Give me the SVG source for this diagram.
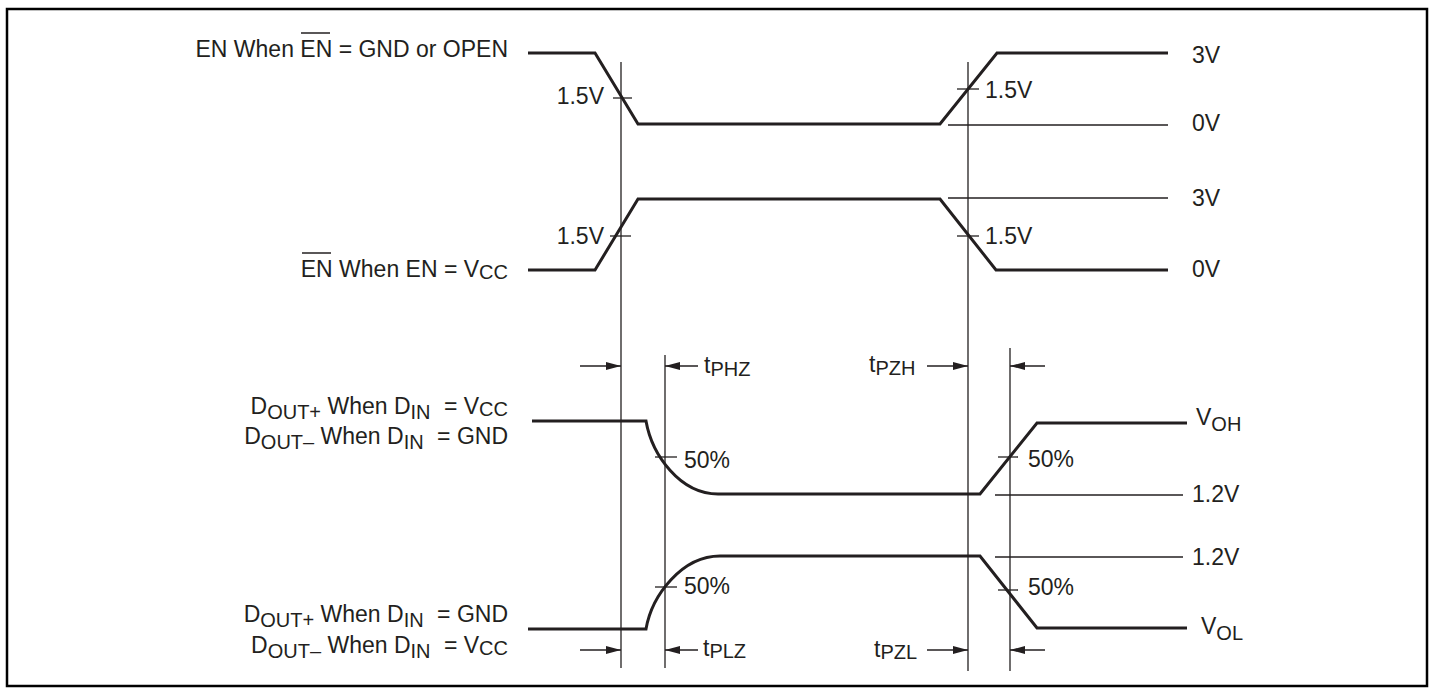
<svg xmlns="http://www.w3.org/2000/svg" width="1435" height="694" viewBox="0 0 1435 694">
<style>
text{font-family:"Liberation Sans",Arial,Helvetica,sans-serif;font-size:23px;fill:#231f20}
.sub{font-size:20px}
.sig{fill:none;stroke:#231f20;stroke-width:3;stroke-linejoin:miter}
.thin{fill:none;stroke:#231f20;stroke-width:1.3}
.arr{fill:none;stroke:#231f20;stroke-width:1.6;marker-end:url(#ah)}
.ov{stroke:#231f20;stroke-width:1.5}
</style>
<defs>
<marker id="ah" markerUnits="userSpaceOnUse" markerWidth="16" markerHeight="9" refX="15" refY="4.5" orient="auto">
<path d="M0,0.5 L15,4.5 L0,8.5 z" fill="#231f20"/>
</marker>
</defs>
<rect x="7" y="9" width="1420" height="677" fill="#fff" stroke="#000" stroke-width="2.5"/>

<g id="sig-en">
<text x="508" y="57" text-anchor="end">EN When EN = GND or OPEN</text>
<line class="ov" x1="301" y1="33" x2="330" y2="33"/>
<path class="sig" d="M528,53 H595 L638,124 H940 L997,53 H1168"/>
<line class="thin" x1="948" y1="125" x2="1168" y2="125"/>
<line class="thin" x1="613" y1="98" x2="632" y2="98"/>
<line class="thin" x1="957" y1="89" x2="979" y2="89"/>
<text x="604" y="104" text-anchor="end">1.5V</text>
<text x="985" y="98">1.5V</text>
<text x="1192" y="63">3V</text>
<text x="1192" y="131">0V</text>
</g>

<g id="sig-enbar">
<text x="508" y="277" text-anchor="end">EN When EN = V<tspan class="sub" dy="2">CC</tspan></text>
<line class="ov" x1="302" y1="253" x2="331" y2="253"/>
<path class="sig" d="M528,270 H595 L638,199 H940 L996,270 H1168"/>
<line class="thin" x1="948" y1="198" x2="1168" y2="198"/>
<line class="thin" x1="610" y1="236" x2="631" y2="236"/>
<line class="thin" x1="957" y1="236" x2="979" y2="236"/>
<text x="604" y="244" text-anchor="end">1.5V</text>
<text x="985" y="244">1.5V</text>
<text x="1192" y="206">3V</text>
<text x="1192" y="277">0V</text>
</g>

<g id="sig-dout-high">
<text x="508" y="414" text-anchor="end">D<tspan class="sub" dy="5">OUT+</tspan><tspan dy="-5"> When D</tspan><tspan class="sub" dy="5">IN</tspan><tspan dx="7" dy="-5"> = V</tspan><tspan class="sub" dy="2">CC</tspan></text>
<text x="508" y="444" text-anchor="end">D<tspan class="sub" dy="5">OUT–</tspan><tspan dy="-5"> When D</tspan><tspan class="sub" dy="5">IN</tspan><tspan dx="7" dy="-5"> = GND</tspan></text>
<path class="sig" d="M532,421 H646 C652,455 680,494 718,494 H980 L1037,423 H1187"/>
<line class="thin" x1="995" y1="495" x2="1183" y2="495"/>
<line class="thin" x1="655" y1="457" x2="677" y2="457"/>
<line class="thin" x1="998" y1="457" x2="1018" y2="457"/>
<text x="684" y="468">50%</text>
<text x="1028" y="467">50%</text>
<text x="1196" y="425">V<tspan class="sub" dy="6">OH</tspan></text>
<text x="1192" y="502">1.2V</text>
</g>

<g id="sig-dout-low">
<text x="508" y="622" text-anchor="end">D<tspan class="sub" dy="5">OUT+</tspan><tspan dy="-5"> When D</tspan><tspan class="sub" dy="5">IN</tspan><tspan dx="7" dy="-5"> = GND</tspan></text>
<text x="508" y="653" text-anchor="end">D<tspan class="sub" dy="5">OUT–</tspan><tspan dy="-5"> When D</tspan><tspan class="sub" dy="5">IN</tspan><tspan dx="7" dy="-5"> = V</tspan><tspan class="sub" dy="2">CC</tspan></text>
<path class="sig" d="M528,629 H646 C652,595 682,556 720,556 H980 L1037,628 H1187"/>
<line class="thin" x1="995" y1="557" x2="1183" y2="557"/>
<line class="thin" x1="655" y1="587" x2="677" y2="587"/>
<line class="thin" x1="998" y1="590" x2="1018" y2="590"/>
<text x="684" y="594">50%</text>
<text x="1028" y="595">50%</text>
<text x="1192" y="565">1.2V</text>
<text x="1201" y="634">V<tspan class="sub" dy="6">OL</tspan></text>
</g>

<g id="connectors">
<line class="thin" x1="621" y1="62" x2="621" y2="668"/>
<line class="thin" x1="665" y1="355" x2="665" y2="668"/>
<line class="thin" x1="968" y1="62" x2="968" y2="671"/>
<line class="thin" x1="1010" y1="348" x2="1010" y2="671"/>
<path class="arr" d="M580,366 H621"/>
<path class="arr" d="M698,366 H665"/>
<path class="arr" d="M927,366 H968"/>
<path class="arr" d="M1045,366 H1010"/>
<path class="arr" d="M580,650 H621"/>
<path class="arr" d="M698,650 H665"/>
<path class="arr" d="M927,650 H968"/>
<path class="arr" d="M1045,650 H1010"/>
<text x="704" y="373">t<tspan class="sub" dy="3">PHZ</tspan></text>
<text x="869" y="372">t<tspan class="sub" dy="3">PZH</tspan></text>
<text x="703" y="656">t<tspan class="sub" dy="2">PLZ</tspan></text>
<text x="874" y="657">t<tspan class="sub" dy="2">PZL</tspan></text>
</g>
</svg>
